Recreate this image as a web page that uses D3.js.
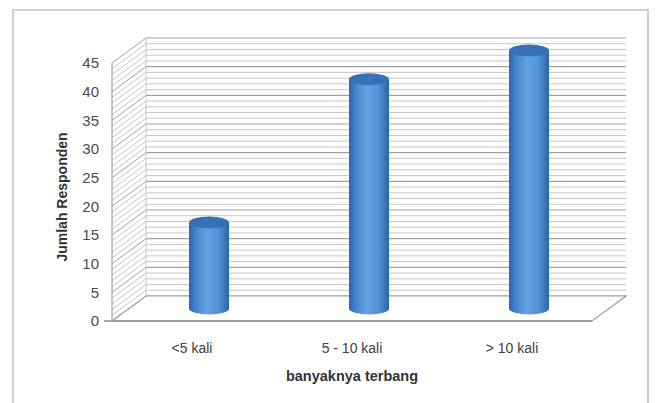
<!DOCTYPE html>
<html><head><meta charset="utf-8">
<script src="https://cdn.jsdelivr.net/npm/d3@7"></script>
<style>
html,body{margin:0;padding:0;background:#fff;}
svg{display:block;}
text{font-family:"Liberation Sans",Arial,sans-serif;}
</style></head>
<body>
<script>
const categories = ["<5 kali", "5 - 10 kali", "> 10 kali"];
const values = [15, 40, 45];
const yTicks = [0, 5, 10, 15, 20, 25, 30, 35, 40, 45];
const xTitle = "banyaknya terbang";
const yTitle = "Jumlah Responden";

const W = 662, H = 403;
const svg = d3.select("body").append("svg").attr("width", W).attr("height", H);

// border
svg.append("rect").attr("x", 13).attr("y", 10).attr("width", 635).attr("height", 400)
  .attr("fill", "#fff").attr("stroke", "#cfcfcf").attr("stroke-width", 2);

const x = d3.scaleBand().domain(categories).range([112, 592]);
const y = d3.scaleLinear().domain([0, 45]).range([321, 63]);
const DX = 34, DY = -25;

const defs = svg.append("defs");
const g1 = defs.append("linearGradient").attr("id", "cyl").attr("x1", "0").attr("x2", "1").attr("y1", "0").attr("y2", "0");
[[0, "#2d64a6"], [0.15, "#4283cc"], [0.45, "#62a3e4"], [0.75, "#4f8fd6"], [1, "#2d64a6"]]
  .forEach(([o, c]) => g1.append("stop").attr("offset", o).attr("stop-color", c));

// back wall
const minor = d3.range(0, 46, 1);
const bw = svg.append("g");
bw.append("rect").attr("x", 112 + DX).attr("y", y(45) + DY).attr("width", 480).attr("height", y(0) - y(45)).attr("fill", "#fff");
minor.forEach(v => {
  const major = v % 5 === 0;
  bw.append("line").attr("x1", 112 + DX).attr("x2", 592 + DX)
    .attr("y1", y(v) + DY).attr("y2", y(v) + DY)
    .attr("stroke", major ? "#a0a0a0" : "#c6c6c6").attr("stroke-width", major ? 1.2 : 1);
  bw.append("line").attr("x1", 112).attr("x2", 112 + DX)
    .attr("y1", y(v)).attr("y2", y(v) + DY)
    .attr("stroke", major ? "#a0a0a0" : "#c6c6c6").attr("stroke-width", 1);
});
bw.append("line").attr("x1", 112 + DX).attr("x2", 112 + DX).attr("y1", y(0) + DY).attr("y2", y(45) + DY)
  .attr("stroke", "#c6c6c6");

// floor
svg.append("path")
  .attr("d", `M112,${y(0)}L592,${y(0)}L${592 + DX},${y(0) + DY}L${112 + DX},${y(0) + DY}Z`)
  .attr("fill", "#fff").attr("stroke", "#a0a0a0").attr("stroke-width", 1.2);
svg.append("line").attr("x1", 104).attr("x2", 592).attr("y1", y(0)).attr("y2", y(0))
  .attr("stroke", "#8c8c8c").attr("stroke-width", 1.5);
svg.append("line").attr("x1", 112).attr("x2", 112).attr("y1", y(0)).attr("y2", y(45))
  .attr("stroke", "#a0a0a0").attr("stroke-width", 1.2);

// bars (cylinders)
const bw2 = 40, ry = 6;
const bars = svg.append("g");
categories.forEach((c, i) => {
  const cx = x(c) + x.bandwidth() / 2 + DX / 2;
  const base = y(0) + DY / 2;
  const top = y(values[i]) + DY / 2;
  const l = cx - bw2 / 2, r = cx + bw2 / 2;
  bars.append("path")
    .attr("d", `M${l},${top}L${l},${base}A${bw2 / 2},${ry} 0 0 0 ${r},${base}L${r},${top}Z`)
    .attr("fill", "url(#cyl)");
  bars.append("ellipse").attr("cx", cx).attr("cy", top).attr("rx", bw2 / 2).attr("ry", ry)
    .attr("fill", "#3670b6");
});

// y tick labels
svg.append("g").selectAll("text").data(yTicks).join("text")
  .attr("x", 99).attr("y", d => y(d)).attr("dy", "0.35em").attr("text-anchor", "end")
  .attr("font-size", 15).attr("fill", "#4a4a4a").text(d => d);

// x labels
svg.append("g").selectAll("text").data(categories).join("text")
  .attr("x", d => x(d) + x.bandwidth() / 2).attr("y", 353).attr("text-anchor", "middle")
  .attr("font-size", 14).attr("fill", "#404040").text(d => d);

svg.append("text").attr("x", 352).attr("y", 381).attr("text-anchor", "middle")
  .attr("font-size", 14.5).attr("font-weight", "bold").attr("fill", "#333").text(xTitle);
svg.append("text").attr("transform", "translate(67,197) rotate(-90)").attr("text-anchor", "middle")
  .attr("font-size", 14).attr("font-weight", "bold").attr("fill", "#333").text(yTitle);
</script>
</body></html>
